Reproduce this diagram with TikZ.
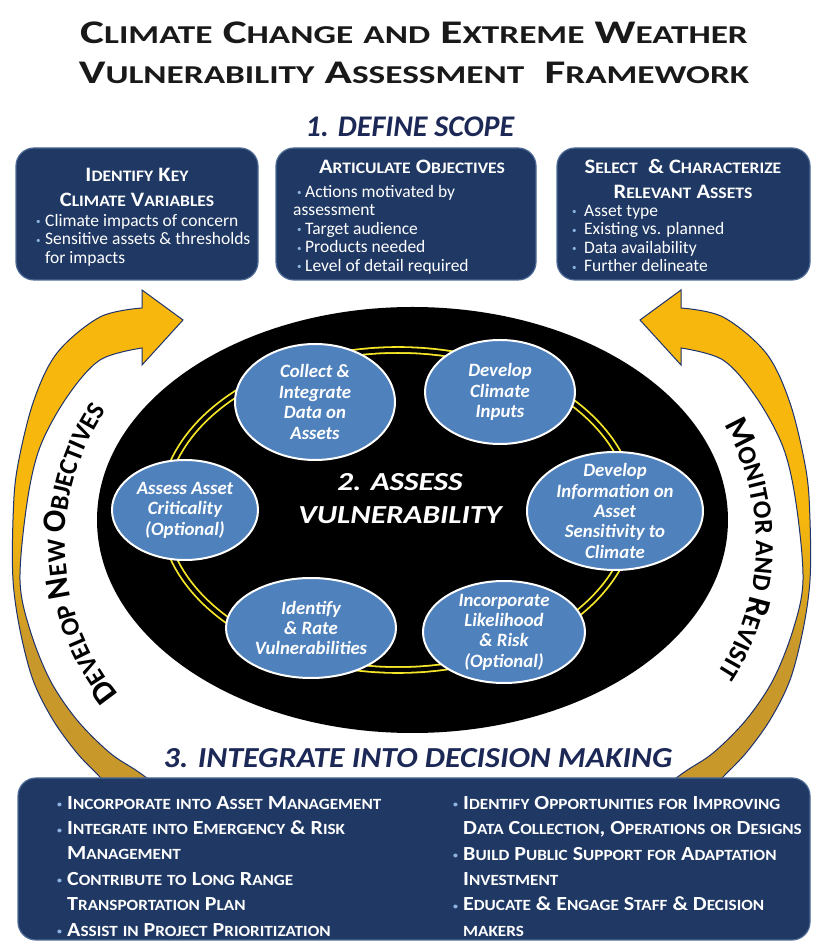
\documentclass[tikz,border=0pt]{standalone}
\usepackage{fontspec}
\setmainfont{Carlito}
\newfontfamily\widefont[FakeStretch=1.37]{Carlito}
\newfontfamily\assessfont[FakeStretch=1.2]{Carlito}
\newfontfamily\broadfont[FakeStretch=1.1]{Carlito}
\usetikzlibrary{shapes.geometric,decorations.text}

\definecolor{boxnavy}{RGB}{31,56,100}
\definecolor{boxedge}{RGB}{78,106,150}
\definecolor{headnavy}{RGB}{28,40,86}
\definecolor{taskblue}{RGB}{79,129,189}
\definecolor{bulblue}{RGB}{141,180,226}
\definecolor{ringyellow}{RGB}{245,230,40}
\definecolor{arrowyellow}{RGB}{247,183,12}
\definecolor{arrowgold}{RGB}{200,152,42}
\definecolor{arrownavy}{RGB}{30,50,110}

\pgfdeclareverticalshading{goldfade}{100bp}{color(0bp)=(arrowgold); color(40bp)=(arrowgold); color(53bp)=(arrowyellow); color(100bp)=(arrowyellow)}

% small capitals made by hand: capitals stay, small letters are set smaller
\makeatletter
\def\fsc@end{\fsc@end}
\def\fsc@small{\fontsize{\strip@pt\dimexpr.78\dimexpr\f@size pt\relax\relax}{\f@baselineskip}\selectfont}
\def\fsc@one#1{\ifnum\uccode`#1>0 \ifnum\uccode`#1=`#1 #1\else{\fsc@small\uppercase{#1}}\fi\else#1\fi}
\def\fsc@chars#1{\ifx#1\fsc@end\else\fsc@one#1\expandafter\fsc@chars\fi}
\def\fsc@words#1 #2\@nil{\fsc@chars#1\fsc@end\ifx\relax#2\relax\else\ \fsc@words#2\@nil\fi}
\newcommand\fsc[1]{\fsc@words#1 \@nil}
\makeatother

\newcommand\bul[1][9pt]{\makebox[#1][l]{\textcolor{bulblue}{\fontsize{9}{9}\selectfont\raisebox{1.5pt}{\textbullet}}}}
\newcommand\loopbig{\bfseries\fontsize{33}{33}\selectfont}
\newcommand\loopsmall{\bfseries\fontsize{26}{33}\selectfont}

% the curved arrow on the left; the right one is its mirror image
\newcommand\bendarrow{%
\path[shade, shading=goldfade, draw=arrownavy, line width=1pt] (183,623) -- (142,653)
  -- plot[smooth, tension=0.55] coordinates {(142,635) (100,626) (57,590) (33,540) (17,473) (13,423) (13,363) (20,313) (33,263) (53,223) (77,190) (100,166) (125,140)}
  -- plot[smooth, tension=0.55] coordinates {(180,140) (140,170) (110,190) (77,223) (50,263) (30,313) (20,363) (27,440) (40,496) (67,546) (100,583) (142,595)}
  -- (142,578) -- cycle;}

\tikzset{
  scopebox/.style={draw=boxedge, line width=1.2pt, fill=boxnavy, rounded corners=18pt, minimum height=132pt},
  boxhead/.style={text=white, font=\broadfont\fontsize{20.5}{24.5}\selectfont\bfseries, align=center, inner sep=0pt},
  bullets/.style={text=white, font=\fontsize{17.5}{18.5}\selectfont, align=left, anchor=north west, inner sep=0pt},
  actions/.style={text=white, font=\broadfont\fontsize{20}{25.4}\selectfont\bfseries, align=left, anchor=north west, inner sep=0pt},
  task/.style={ellipse, draw=white, line width=2pt, fill=taskblue, inner sep=0pt},
  tasktext/.style={text=white, font=\fontsize{18.8}{20.4}\selectfont\bfseries\itshape, align=center, inner sep=0pt},
  phase/.style={text=headnavy, font=\fontsize{30}{30}\selectfont\bfseries\itshape, inner sep=0pt}
}

\begin{document}
\begin{tikzpicture}[x=1pt, y=1pt]
\useasboundingbox (0,0) rectangle (823,943);
\fill[white] (0,0) rectangle (823,943);

% title
\node[align=center, font=\widefont\bfseries\fontsize{33}{40}\selectfont, text=black!90] (title) at (414,890)
  {\fsc{Climate Change and Extreme Weather}\\\fsc{Vulnerability Assessment}~ \fsc{Framework}};

% 1. define scope
\node[phase] (phase1) at (410,816) {1. DEFINE SCOPE};
\node[scopebox, minimum width=242pt] (climvars) at (137,729) {};
\node[scopebox, minimum width=260pt] (objectives) at (406,729) {};
\node[scopebox, minimum width=253pt] (assets) at (683.5,729) {};
\node[boxhead] (climvarsT) at (137,755.5) {\fsc{Identify Key}\\\fsc{Climate Variables}};
\node[boxhead] (objectivesT) at (412,776) {\fsc{Articulate Objectives}};
\node[boxhead] (assetsT) at (683,764) {\fsc{Select}~ \fsc{\& Characterize}\\\fsc{Relevant Assets}};
\node[bullets] (climvarsL) at (36,729) {\bul Climate impacts of concern\\\bul Sensitive assets \& thresholds\\\hspace*{9pt}for impacts};
\node[bullets] (objectivesL) at (293,758) {\hspace*{4pt}\bul[8pt]Actions motivated by\\assessment\\\hspace*{4pt}\bul[8pt]Target audience\\\hspace*{4pt}\bul[8pt]Products needed\\\hspace*{4pt}\bul[8pt]Level of detail required};
\node[bullets] (assetsL) at (572,738) {\bul[12pt]Asset type\\\bul[12pt]Existing vs. planned\\\bul[12pt]Data availability\\\bul[12pt]Further delineate};

% loop arrows
\bendarrow
\begin{scope}[xshift=823pt, xscale=-1]
\bendarrow
\end{scope}

% 2. assess vulnerability
\node[ellipse, fill=black, minimum width=631pt, minimum height=426pt] (core) at (412.5,423) {};
\node[ellipse, draw=ringyellow, double=black, double distance=4pt, line width=1.8pt, minimum width=471pt, minimum height=320pt] (ring) at (398,433) {};
\foreach \name/\cx/\cy/\w/\h/\txt in {
  collect/315/541/160/116/Collect \&\\Integrate\\Data on\\Assets,
  climate/500/551/150/104/Develop\\Climate\\Inputs,
  sensitivity/615/432/176/118/Develop\\Information on\\Asset\\Sensitivity to\\Climate,
  likelihood/504/311/162/102/Incorporate\\Likelihood\\\& Risk\\(Optional),
  rating/311/315/170/100/Identify\\\& Rate\\Vulnerabilities,
  criticality/185/433/146/100/Assess Asset\\Criticality\\(Optional)}
{
  \node[task, minimum width=\w pt, minimum height=\h pt] (\name) at (\cx,\cy) {};
  \node[tasktext] (\name T) at (\name) {\txt};
}
\node[align=center, text=white, font=\assessfont\fontsize{26}{33}\selectfont\bfseries\itshape] (phase2) at (400,444) {2. ASSESS\\VULNERABILITY};

% texts along the arrows
\path[decorate, decoration={text along path, text align=center,
  text={|\loopbig|D|\loopsmall|EVELOP |\loopbig|N|\loopsmall|EW |\loopbig|O|\loopsmall|BJECTIVES}}]
  (303,399) ++(230:238) arc[start angle=230, end angle=135, radius=238];
\path[decorate, decoration={text along path, text align=center,
  text={|\loopbig|M|\loopsmall|ONITOR AND |\loopbig|R|\loopsmall|EVISIT}}]
  (520,399) ++(42:236) arc[start angle=42, end angle=-45, radius=236];

% 3. integrate into decision making
\node[phase, font=\broadfont\fontsize{29}{29}\selectfont\bfseries\itshape] (phase3) at (418,185) {3. INTEGRATE INTO DECISION MAKING};
\node[scopebox, minimum width=792pt, minimum height=162pt] (decision) at (414,84) {};
\node[actions] (decisionL) at (57,147) {\bul[10pt]\fsc{Incorporate into Asset Management}\\\bul[10pt]\fsc{Integrate into Emergency \& Risk}\\\hspace*{10pt}\fsc{Management}\\\bul[10pt]\fsc{Contribute to Long Range}\\\hspace*{10pt}\fsc{Transportation Plan}\\\bul[10pt]\fsc{Assist in Project Prioritization}};
\node[actions] (decisionR) at (453,147) {\bul[10pt]\fsc{Identify Opportunities for Improving}\\\hspace*{10pt}\fsc{Data Collection, Operations or Designs}\\\bul[10pt]\fsc{Build Public Support for Adaptation}\\\hspace*{10pt}\fsc{Investment}\\\bul[10pt]\fsc{Educate \& Engage Staff \& Decision}\\\hspace*{10pt}\fsc{makers}};
\end{tikzpicture}
\end{document}
